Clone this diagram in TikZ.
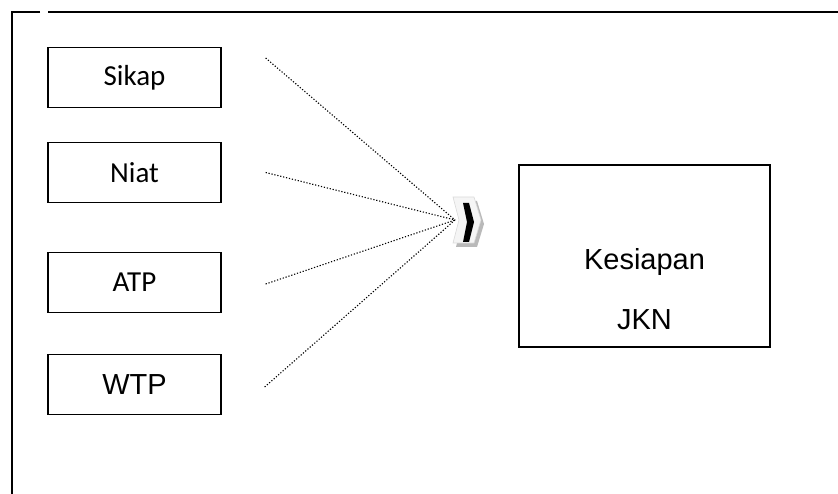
\documentclass[tikz,border=0pt]{standalone}
\usepackage{fontspec}
\setmainfont{Carlito}
\newfontfamily\arialfont{Liberation Sans}
\usetikzlibrary{positioning}

\begin{document}
\begin{tikzpicture}[
    x=1pt, y=-1pt,
    node distance=95pt,
    font=\fontsize{29}{34}\selectfont,
    var/.style={
		rectangle,
		draw=black,
		line width=1.3pt,
		text centered,
		minimum width=173pt,
		minimum height=60pt,
		inner sep=0pt
	},
	outcome/.style={
		rectangle,
		draw=black,
		line width=1.4pt,
		minimum width=251pt,
		minimum height=182pt
	},
	arial/.style={
		font=\arialfont\fontsize{29}{34}\selectfont
	},
	link/.style={
		line width=1.1pt,
		dash pattern=on 1.2pt off 1.8pt
	},
	frame/.style={
		line width=1.5pt
	}
  ]
  \useasboundingbox (0,0) rectangle (838,494);

    % the outer frame (open at the right and bottom)
  \draw [frame] (40,12) -- (12,12) -- (12,494);
  \draw [frame] (48,12) -- (838,12);

    % the four factors
  \node [var] (sikap) at (134.5,77.5) {Sikap};
  \node [var, below of=sikap] (niat) {Niat};
  \node [var, below of=niat, node distance=110pt] (atp) {ATP};
  \node [var, arial, below of=atp, node distance=102pt] (wtp) {WTP};

    % the outcome
  \node [outcome] (kesiapan) at (644.5,256) {};
  \node [arial, anchor=base] (kesiapan-txt) at ([yshift=-14pt]kesiapan.center) {Kesiapan};
  \node [arial, anchor=base] (jkn-txt) at ([yshift=-74pt]kesiapan.center) {JKN};

    % where the dotted lines start and meet
  \coordinate (s1) at ([xshift=44pt, yshift=19.5pt]sikap.east);
  \coordinate (s2) at ([xshift=44pt]niat.east);
  \coordinate (s3) at ([xshift=44pt, yshift=-1.5pt]atp.east);
  \coordinate (s4) at ([xshift=43pt, yshift=-2.5pt]wtp.east);
  \coordinate (meet) at (455,220);

  \foreach \v in {s1,s2,s3,s4}
    \draw [link] (\v) -- (meet);

    % the chevron
  \begin{scope}[shift={(meet)}]
    \fill [gray!55] (1,-19) -- (22,-19) -- (29,4) -- (22,27) -- (1,27) -- (7,4) -- cycle;
    \filldraw [fill=gray!8, draw=gray!30, line width=0.6pt]
      (-2,-23) -- (19,-23) -- (26,0) -- (19,23) -- (-2,23) -- (4,0) -- cycle;
    \fill [black] (8,-17) -- (14,-17) -- (19,2) -- (14,22) -- (8,22) -- (12,2) -- cycle;
  \end{scope}

\end{tikzpicture}
\end{document}
